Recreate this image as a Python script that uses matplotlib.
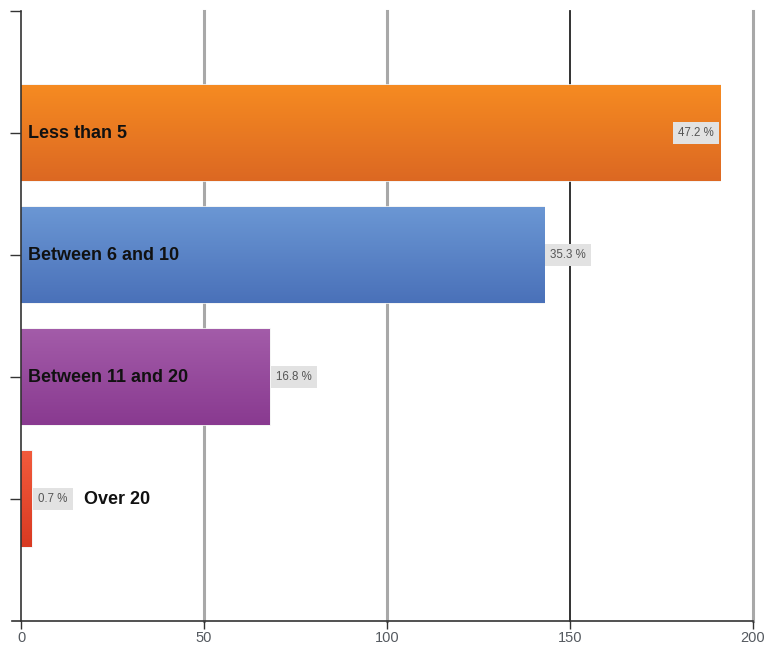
import numpy as np
from matplotlib import pyplot as plt
from matplotlib.colors import LinearSegmentedColormap

plt.rcParams['font.family'] = ['Liberation Sans', 'DejaVu Sans']

categories = ['Less than 5', 'Between 6 and 10', 'Between 11 and 20', 'Over 20']
counts = [191, 143, 68, 3]
percent_labels = ['47.2 %', '35.3 %', '16.8 %', '0.7 %']
top_colors = ['#f68b21', '#6b97d4', '#a35ca9', '#f25b3c']
bottom_colors = ['#dc6823', '#4a71b9', '#893a90', '#d93a22']
x_ticks = [0, 50, 100, 150, 200]


fig = plt.figure(figsize=(7.7, 6.47), dpi=100)
ax = fig.add_axes([21 / 770, 26 / 647, 732 / 770, 610 / 647])

ax.set_xlim(0, 200)
ax.set_ylim(len(categories), -1)

# grid lines, the one at 150 is darker in the original
for xt in x_ticks[1:]:
    if xt == 150:
        ax.axvline(xt, color='#222222', lw=1.3, zorder=0, clip_on=False)
    else:
        ax.axvline(xt, color='#a8a8a8', lw=2.2, zorder=0, clip_on=False)

bars = ax.barh(range(len(categories)), counts, height=0.79,
               color=top_colors, edgecolor='#f2f2f2', linewidth=1.2, zorder=2)

gradient = np.linspace(0, 1, 100).reshape(-1, 1)
for bar, c_top, c_bot in zip(bars, top_colors, bottom_colors):
    cmap = LinearSegmentedColormap.from_list('g', [c_top, c_bot])
    x0, y0 = bar.get_x(), bar.get_y()
    w, h = bar.get_width(), bar.get_height()
    im = ax.imshow(gradient, cmap=cmap, aspect='auto',
                   extent=(x0, x0 + w, y0 + h, y0), zorder=2.5)
    im.set_clip_path(bar)

ax.set_xlim(0, 200)
ax.set_ylim(len(categories), -1)

box = dict(boxstyle='square,pad=0.45', fc='#e2e2e2', ec='none')
for i, (cat, val, pct) in enumerate(zip(categories, counts, percent_labels)):
    if i == 0:
        ax.annotate(pct, xy=(val, i), xytext=(-6, 0), textcoords='offset pixels',
                    ha='right', va='center', fontsize=8.3, color='#555555',
                    bbox=box, zorder=4)
    else:
        ax.annotate(pct, xy=(val, i), xytext=(6, 0), textcoords='offset pixels',
                    ha='left', va='center', fontsize=8.3, color='#555555',
                    bbox=box, zorder=4)
    if val < 20:
        ax.annotate(cat, xy=(val, i), xytext=(52, 0), textcoords='offset pixels',
                    ha='left', va='center', fontsize=13, fontweight='bold',
                    color='#111111', zorder=4)
    else:
        ax.annotate(cat, xy=(0, i), xytext=(7, 0), textcoords='offset pixels',
                    ha='left', va='center', fontsize=13, fontweight='bold',
                    color='#111111', zorder=4)

ax.set_xticks(x_ticks)
ax.set_xticklabels([str(t) for t in x_ticks])
ax.set_yticks(range(-1, len(categories)))
ax.set_yticklabels([])
ax.tick_params(axis='x', length=6, width=1, color='#333333', labelsize=10.5,
               labelcolor='#555a60', pad=1)
ax.tick_params(axis='y', length=8, width=1, color='#333333')

for side in ['top', 'right']:
    ax.spines[side].set_visible(False)
ax.spines['left'].set_color('#333333')
ax.spines['bottom'].set_color('#333333')
ax.spines['left'].set_linewidth(1.2)
ax.spines['bottom'].set_linewidth(1.2)
# bottom axis runs a little past the left axis
ax.plot([-0.012, 0], [0, 0], transform=ax.transAxes, color='#333333',
        lw=1.2, clip_on=False)

fig.savefig('out.png', dpi=100)
